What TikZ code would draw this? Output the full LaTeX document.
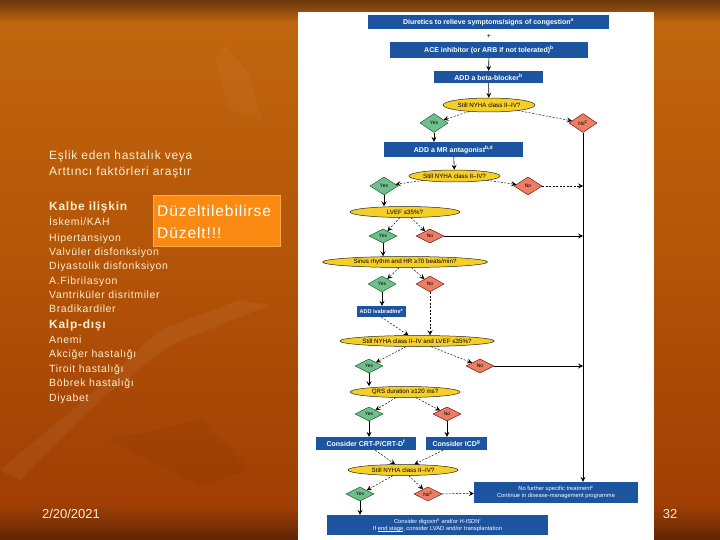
\documentclass[tikz,border=0pt]{standalone}
\usepackage{fontspec}
\setmainfont{Liberation Sans}
\usetikzlibrary{shapes.geometric,arrows.meta}
\definecolor{bgdark}{RGB}{105,55,10}
\definecolor{bgor}{RGB}{192,102,14}
\definecolor{bgmid}{RGB}{180,85,8}
\definecolor{bglow}{RGB}{160,62,4}
\definecolor{bgbot}{RGB}{95,38,6}
\definecolor{cream}{RGB}{255,240,205}
\definecolor{boxor}{RGB}{250,138,18}
\definecolor{boxorb}{RGB}{255,175,70}
\definecolor{fcblue}{RGB}{28,84,160}
\definecolor{fcyel}{RGB}{246,206,40}
\definecolor{fcgreen}{RGB}{112,190,142}
\definecolor{fcred}{RGB}{236,126,102}
\newcommand\myul[1]{\setbox0\hbox{#1}\rlap{\rule[-0.9pt]{\wd0}{0.35pt}}\box0}
\tikzset{
  bluebox/.style={fill=fcblue, text=white, inner sep=0pt, font=\bfseries\fontsize{7}{8}\selectfont},
  notebox/.style={fill=fcblue, text=white, inner sep=0pt, align=center, font=\fontsize{5.8}{7}\selectfont},
  ell/.style={ellipse, draw=black!85, line width=0.5pt, fill=fcyel, inner sep=0pt, font=\fontsize{6.2}{7}\selectfont},
  yesd/.style={diamond, draw=green!35!black, line width=0.4pt, fill=fcgreen, inner sep=0pt, minimum width=28pt, minimum height=16pt, font=\fontsize{5}{6}\selectfont},
  nod/.style={diamond, draw=red!40!black, line width=0.4pt, fill=fcred, inner sep=0pt, minimum width=28pt, minimum height=16pt, font=\fontsize{5}{6}\selectfont},
  arr/.style={-{Stealth[length=5pt,width=5pt,inset=2pt]}, line width=0.6pt, black},
  darr/.style={arr, dash pattern=on 2pt off 1.5pt, line width=0.45pt},
  listtxt/.style={anchor=base west, inner sep=0pt, text=cream, font=\fontsize{10.5}{12}\selectfont\addfontfeature{LetterSpace=6}},
  headtxt/.style={anchor=base west, inner sep=0pt, text=cream, font=\fontsize{12}{14}\selectfont\addfontfeature{LetterSpace=6}},
  boldtxt/.style={anchor=base west, inner sep=0pt, text=cream, font=\bfseries\fontsize{12}{14}\selectfont\addfontfeature{LetterSpace=6}},
  foot/.style={anchor=base, inner sep=0pt, text=cream, font=\fontsize{13}{15}\selectfont}
}
\begin{document}
\begin{tikzpicture}[x=1pt,y=-1pt]
\useasboundingbox (0,0) rectangle (720,540);
% background
\fill[top color=bgdark, bottom color=bgor] (0,0) rectangle (720,23);
\fill[top color=bgor, bottom color=bgmid] (0,22) rectangle (720,251);
\fill[top color=bgmid, bottom color=bglow] (0,250) rectangle (720,506);
\fill[top color=bglow, bottom color=bgbot] (0,505) rectangle (720,540);
% faint leaf shapes
\fill[white, opacity=0.05] (0,470) -- (90,395) -- (160,330) -- (240,300) -- (270,305) -- (170,345) -- (100,400) -- (20,480) -- cycle;
\fill[white, opacity=0.035] (215,60) -- (225,45) -- (250,75) -- (262,120) -- (230,110) -- cycle;
\fill[black, opacity=0.04] (110,440) -- (200,420) -- (250,470) -- (200,485) -- cycle;
% white panel
\fill[white] (298,12) rectangle (654,540);

% left text
\node[headtxt] (t1) at (49,160) {Eşlik eden hastalık veya};
\node[headtxt] (t2) at (49,175.5) {Arttıncı faktörleri araştır};
\node[boldtxt] (t3) at (49,211) {Kalbe ilişkin};
\node[listtxt] (t4) at (49,225.5) {İskemi/KAH};
\node[listtxt] (t5) at (49,241) {Hipertansiyon};
\node[listtxt] (t6) at (49,255) {Valvüler disfonksiyon};
\node[listtxt] (t7) at (49,269.5) {Diyastolik disfonksiyon};
\node[listtxt] (t8) at (49,284) {A.Fibrilasyon};
\node[listtxt] (t9) at (49,298) {Vantriküler disritmiler};
\node[listtxt] (t10) at (49,312.5) {Bradikardiler};
\node[boldtxt] (t11) at (49,328) {Kalp-dışı};
\node[listtxt] (t12) at (49,343) {Anemi};
\node[listtxt] (t13) at (49,357.5) {Akciğer hastalığı};
\node[listtxt] (t14) at (49,372) {Tiroit hastalığı};
\node[listtxt] (t15) at (49,386.5) {Böbrek hastalığı};
\node[listtxt] (t16) at (49,401) {Diyabet};

% orange box
\node[draw=boxorb, line width=0.8pt, fill=boxor, minimum width=127pt, minimum height=51pt, inner sep=0pt] (fix) at (216.5,220.5) {};
\node[anchor=base west, inner sep=0pt, text=white, font=\fontsize{15.5}{18}\selectfont\addfontfeature{LetterSpace=6}] (fix1) at (157,216) {Düzeltilebilirse};
\node[anchor=base west, inner sep=0pt, text=white, font=\fontsize{15.5}{18}\selectfont\addfontfeature{LetterSpace=6}] (fix2) at (157,239) {Düzelt!!!};

% footer
\node[foot] (date) at (71,518) {2/20/2021};
\node[foot] (page) at (670,518) {32};

% flowchart
\node[bluebox, minimum width=241pt, minimum height=14.5pt] (diur) at (488.5,22) {Diuretics to relieve symptoms/signs of congestion\textsuperscript{a}};
\node[inner sep=0pt, font=\fontsize{7}{8}\selectfont] (plus) at (489,36) {+};
\node[bluebox, minimum width=198pt, minimum height=15.5pt] (ace) at (489,50) {ACE inhibitor (or ARB if not tolerated)\textsuperscript{b}};
\node[bluebox, minimum width=109pt, minimum height=12pt] (beta) at (488.5,77) {ADD a beta-blocker\textsuperscript{b}};
\node[ell, minimum width=92pt, minimum height=14pt] (q1) at (489,105) {Still NYHA class II--IV?};
\node[yesd, minimum height=19pt] (y1) at (434,123) {Yes};
\node[nod, minimum height=19pt] (n1) at (583,123) {No\textsuperscript{c}};
\node[bluebox, minimum width=139pt, minimum height=15pt] (mra) at (453.5,149.5) {ADD a MR antagonist\textsuperscript{b,d}};
\node[ell, minimum width=91pt, minimum height=12pt] (q2) at (454.5,176) {Still NYHA class II--IV?};
\node[yesd, minimum height=18pt] (y2) at (384,186) {Yes};
\node[nod, minimum height=18pt] (n2) at (528,186) {No};
\node[ell, minimum width=110pt, minimum height=11pt] (q3) at (405,212) {LVEF ≤35\%?};
\node[yesd, minimum height=14pt] (y3) at (383,236) {Yes};
\node[nod, minimum height=14pt] (n3) at (430,236) {No};
\node[ell, minimum width=165pt, minimum height=11pt] (q4) at (405,262) {Sinus rhythm and HR ≥70 beats/min?};
\node[yesd, minimum height=16pt] (y4) at (382,284) {Yes};
\node[nod, minimum height=16pt] (n4) at (430,284) {No};
\node[bluebox, minimum width=49pt, minimum height=11pt, font=\bfseries\fontsize{5.5}{6}\selectfont] (iva) at (381.5,311.5) {ADD ivabradine\textsuperscript{e}};
\node[ell, minimum width=148pt, minimum height=11pt] (q5) at (417,341) {Still NYHA class II--IV and LVEF ≤35\%?};
\node[yesd, minimum height=14pt] (y5) at (369,366) {Yes};
\node[nod, minimum height=14pt] (n5) at (480,366) {No};
\node[ell, minimum width=110pt, minimum height=11pt] (q6) at (405,392) {QRS duration ≥120 ms?};
\node[yesd, minimum height=14pt] (y6) at (369,414) {Yes};
\node[nod, minimum height=14pt] (n6) at (447,414) {No};
\node[bluebox, minimum width=100pt, minimum height=13pt] (crt) at (366,443.5) {Consider CRT-P/CRT-D\textsuperscript{f}};
\node[bluebox, minimum width=61pt, minimum height=13pt] (icd) at (456.5,443.5) {Consider ICD\textsuperscript{g}};
\node[ell, minimum width=110pt, minimum height=11pt] (q7) at (403,470) {Still NYHA class II--IV?};
\node[yesd, minimum height=14pt] (y7) at (360,494) {Yes};
\node[nod, minimum height=14pt] (n7) at (428,494) {No\textsuperscript{c}};
\node[notebox, minimum width=164pt, minimum height=21pt] (nf) at (556,492.5) {No further specific treatment\textsuperscript{c}\\Continue in disease-management programme};
\node[notebox, minimum width=221pt, minimum height=20pt] (dig) at (437.5,525) {Consider digoxin\textsuperscript{h} and/or H-ISDN\textsuperscript{i}\\If \myul{end stage}, consider LVAD and/or transplantation};

% connectors
\draw[arr] (ace) -- (beta);
\draw[arr] (beta) -- (q1);
\draw[darr] (q1) -- (y1);
\draw[darr] (q1) -- (n1);
\draw[arr] (y1) -- (y1 |- mra.north);
\draw[arr] (n1) -- (n1 |- nf.north);
\draw[arr] (mra) -- (q2);
\draw[darr] (q2) -- (y2);
\draw[darr] (q2) -- (n2);
\draw[darr] (n2) -- (n1 |- n2);
\draw[arr] (y2) -- (y2 |- q3.north);
\draw[darr] (q3) -- (y3);
\draw[darr] (q3) -- (n3);
\draw[arr] (n3) -- (n1 |- n3);
\draw[arr] (y3) -- (y3 |- q4.north);
\draw[darr] (q4) -- (y4);
\draw[darr] (q4) -- (n4);
\draw[arr] (y4) -- (y4 |- iva.north);
\draw[darr] (iva.south) -- (q5);
\draw[darr] (n4) -- (n4 |- q5.north);
\draw[darr] (q5) -- (y5);
\draw[darr] (q5) -- (n5);
\draw[arr] (n5) -- (n1 |- n5);
\draw[arr] (y5) -- (y5 |- q6.north);
\draw[darr] (q6) -- (y6);
\draw[darr] (q6) -- (n6);
\draw[arr] (y6) -- (y6 |- crt.north);
\draw[arr] (n6) -- (n6 |- icd.north);
\draw[darr] (crt) -- (q7);
\draw[darr] (icd) -- (q7);
\draw[darr] (q7) -- (y7);
\draw[darr] (q7) -- (n7);
\draw[darr] (n7) -- (nf);
\draw[arr] (y7) -- (y7 |- dig.north);
\end{tikzpicture}
\end{document}
